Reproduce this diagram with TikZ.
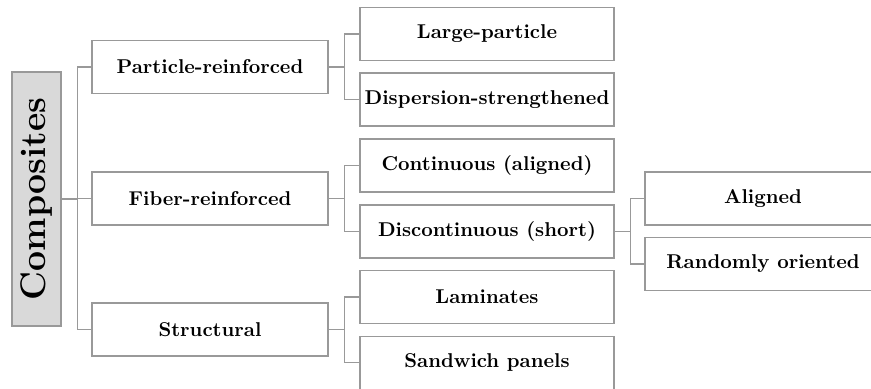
\documentclass[tikz,border=0pt]{standalone}
\usetikzlibrary{positioning}
\definecolor{linegray}{gray}{0.6}
\definecolor{fillgray}{gray}{0.85}
\begin{document}
\begin{tikzpicture}[x=0.5pt,y=-0.5pt,
  box/.style={draw=linegray, line width=0.6pt, fill=white, minimum height=26.5pt, inner sep=0pt, font=\bfseries, text=black},
  lone/.style={box, minimum width=118pt},
  ltwo/.style={box, minimum width=127pt},
  root/.style={draw=linegray, line width=0.6pt, fill=fillgray, minimum width=24.5pt, minimum height=127pt, inner sep=0pt},
  conn/.style={draw=linegray, line width=0.6pt}]
\useasboundingbox (0,0) rectangle (871,389);
\clip (0,0) rectangle (871,389);
\node[root] (comp) at (36.5,199) {\rotatebox{90}{\fontsize{17.8}{20}\selectfont\bfseries Composites}};
\node[lone] (part) at (210,67) {Particle-reinforced};
\node[lone] (fib) at (210,198.5) {Fiber-reinforced};
\node[lone] (str) at (210,329.5) {Structural};
\node[ltwo] (large) at (487,34) {Large-particle};
\node[ltwo] (disp) at (487,99.5) {Dispersion-strengthened};
\node[ltwo] (cont) at (487,165.5) {Continuous (aligned)};
\node[ltwo] (disc) at (487,231.5) {Discontinuous (short)};
\node[ltwo] (lam) at (487,297) {Laminates};
\node[ltwo] (sand) at (487,362.8) {Sandwich panels};
\node[lone] (ali) at (763,198.5) {Aligned};
\node[lone] (rand) at (763,264) {Randomly oriented};
\foreach \p/\c in {comp/part, comp/fib, comp/str, part/large, part/disp, fib/cont, fib/disc, str/lam, str/sand, disc/ali, disc/rand}
  \draw[conn] (\p.east) -- ++(8pt,0) |- (\c.west);
\end{tikzpicture}
\end{document}
